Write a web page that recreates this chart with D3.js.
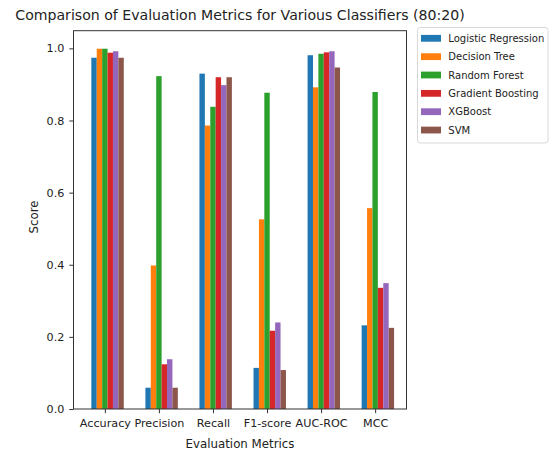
<!DOCTYPE html>
<html>
<head>
<meta charset="utf-8">
<script src="https://cdn.jsdelivr.net/npm/d3@7"></script>
<style>
  html, body { margin: 0; padding: 0; background: #fff; }
  svg { display: block; font-family: "DejaVu Sans", sans-serif; }
</style>
</head>
<body>
<svg id="chart" width="552" height="457"></svg>
<script>
const metrics = ["Accuracy", "Precision", "Recall", "F1-score", "AUC-ROC", "MCC"];
const classifiers = ["Logistic Regression", "Decision Tree", "Random Forest", "Gradient Boosting", "XGBoost", "SVM"];
const colors = ["#1f77b4", "#ff7f0e", "#2ca02c", "#d62728", "#9467bd", "#8c564b"];
const logisticRegression = [0.974, 0.059, 0.930, 0.114, 0.981, 0.232];
const decisionTree       = [0.999, 0.398, 0.786, 0.526, 0.892, 0.557];
const randomForest       = [0.999, 0.923, 0.838, 0.877, 0.985, 0.879];
const gradientBoosting   = [0.988, 0.124, 0.920, 0.217, 0.989, 0.336];
const xgBoost            = [0.992, 0.138, 0.898, 0.240, 0.992, 0.349];
const svm                = [0.974, 0.059, 0.920, 0.108, 0.947, 0.225];
const yTicks = [0.0, 0.2, 0.4, 0.6, 0.8, 1.0];
</script>
<script>
const series = [logisticRegression, decisionTree, randomForest, gradientBoosting, xgBoost, svm];

const svg = d3.select("#chart");
const L = 73.5, R = 406.5, T = 30.7, B = 409;
const barW = 0.1;
const x = d3.scaleLinear().domain([-0.58, 5.58]).range([L, R]);
const y = d3.scaleLinear().domain([0, 1.049]).range([B, T]);

// bars
series.forEach((vals, j) => {
  svg.append("g").selectAll("rect").data(vals).join("rect")
    .attr("x", (d, i) => x(i + (j - 2.5) * barW))
    .attr("width", x(barW) - x(0))
    .attr("y", d => y(d))
    .attr("height", d => y(0) - y(d))
    .attr("fill", colors[j]);
});

// axes
const yAxis = d3.axisLeft(y).tickValues(yTicks).tickFormat(d3.format(".1f")).tickSize(4.2).tickPadding(5);
const gy = svg.append("g").attr("transform", `translate(${L},0)`).call(yAxis);
const xAxis = d3.axisBottom(x).tickValues(d3.range(metrics.length)).tickFormat(i => metrics[i]).tickSize(4.2).tickPadding(6);
const gx = svg.append("g").attr("transform", `translate(0,${B})`).call(xAxis);
[gx, gy].forEach(g => {
  g.select(".domain").remove();
  g.selectAll("line").attr("stroke", "#333");
  g.selectAll("text").attr("fill", "#222").style("font-size", "11.2px").style("font-family", "DejaVu Sans");
});

// frame
svg.append("rect").attr("x", L).attr("y", T).attr("width", R - L).attr("height", B - T)
  .attr("fill", "none").attr("stroke", "#333").attr("stroke-width", 1);

// title and labels
svg.append("text").attr("x", (L + R) / 2).attr("y", 15).attr("text-anchor", "middle")
  .attr("dominant-baseline", "central").style("font-size", "14.1px").attr("fill", "#222")
  .text("Comparison of Evaluation Metrics for Various Classifiers (80:20)");
svg.append("text").attr("x", (L + R) / 2).attr("y", 443.5).attr("text-anchor", "middle")
  .attr("dominant-baseline", "central").style("font-size", "11.8px").attr("fill", "#222")
  .text("Evaluation Metrics");
svg.append("text").attr("transform", `translate(34,217) rotate(-90)`).attr("text-anchor", "middle")
  .attr("dominant-baseline", "central").style("font-size", "11.8px").attr("fill", "#222")
  .text("Score");

// legend
const lg = svg.append("g");
lg.append("rect").attr("x", 417.5).attr("y", 27.5).attr("width", 130.5).attr("height", 115.5)
  .attr("rx", 3).attr("fill", "#fff").attr("stroke", "#d8d8d8");
classifiers.forEach((c, j) => {
  const cy = 38.3 + j * 18.35;
  lg.append("rect").attr("x", 421).attr("y", cy - 3.4).attr("width", 20).attr("height", 6.8).attr("fill", colors[j]);
  lg.append("text").attr("x", 448.3).attr("y", cy).attr("dominant-baseline", "central")
    .style("font-size", "10px").attr("fill", "#222").text(c);
});
</script>
</body>
</html>
